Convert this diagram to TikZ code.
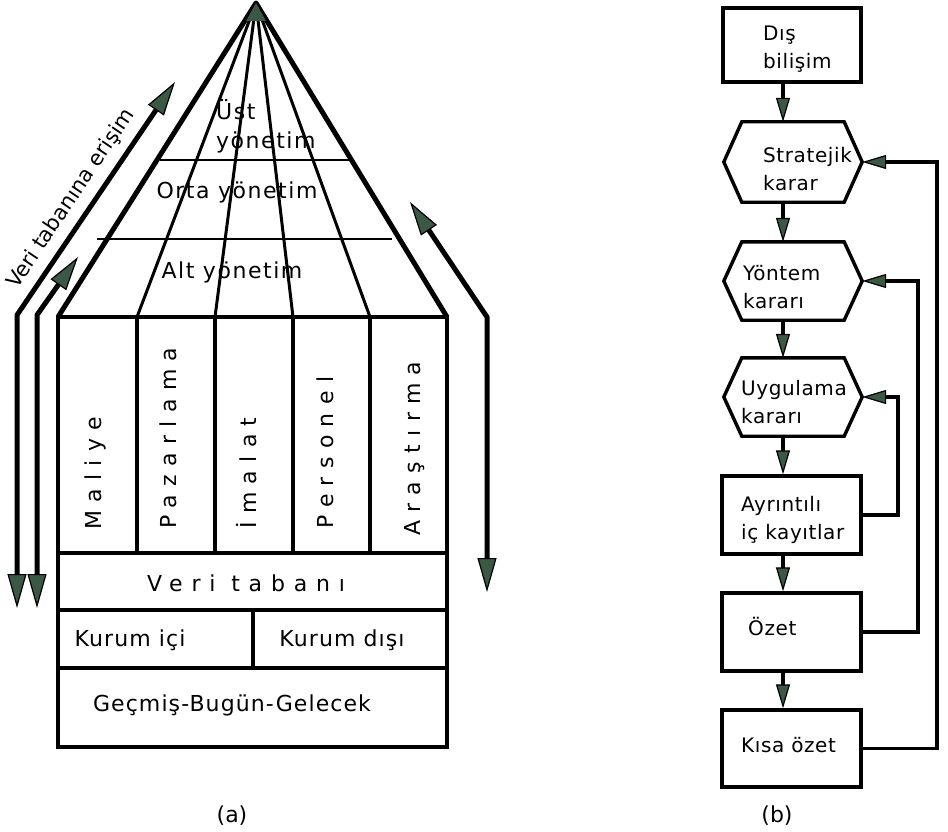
\documentclass[tikz,border=0pt]{standalone}
\usepackage{fontspec}
\setmainfont{DejaVu Sans}
\usetikzlibrary{arrows.meta}
\definecolor{agreen}{RGB}{58,88,68}
\tikzset{
  pyrout/.style={line width=5pt, line join=round},
  pyrin/.style={line width=3pt},
  hline/.style={line width=2.4pt},
  boxln/.style={line width=4.5pt},
  bigtip/.tip={Triangle[length=34pt,width=19pt,fill=agreen,line width=1.2pt]},
  bigarrow/.style={line width=5pt, line join=round, bigtip-bigtip},
  flowtip/.tip={Triangle[length=24pt,width=14pt,fill=agreen,line width=1.2pt]},
  farrow/.style={line width=3.4pt, -flowtip},
  fline/.style={line width=3.4pt},
  lvl/.style={inner sep=0pt, font=\fontsize{22}{29}\selectfont\addfontfeatures{LetterSpace=7}},
  colt/.style={inner sep=0pt, rotate=90, anchor=west, font=\fontsize{22}{26}\selectfont\addfontfeatures{LetterSpace=38}},
  wide/.style={inner sep=0pt, font=\fontsize{22}{26}\selectfont\addfontfeatures{LetterSpace=40}},
  cell/.style={inner sep=0pt, font=\fontsize{22}{26}\selectfont\addfontfeatures{LetterSpace=5}},
  fbox/.style={draw, line width=3.4pt, inner sep=0pt},
  hexbox/.style={inner sep=0pt},
  ftext/.style={inner sep=0pt, anchor=west, align=left, font=\fontsize{20}{28}\selectfont\addfontfeatures{LetterSpace=3}},
  caplabel/.style={inner sep=0pt, font=\fontsize{22}{26}\selectfont}
}
\begin{document}
\begin{tikzpicture}[x=1pt,y=-1pt]
\useasboundingbox (0,0) rectangle (948,832);

% ---------- (a) pyramid ----------
\coordinate (apex) at (256,3);
\coordinate (b0) at (58,317);
\coordinate (b1) at (137,317);
\coordinate (b2) at (215,317);
\coordinate (b3) at (293,317);
\coordinate (b4) at (370,317);
\coordinate (b5) at (447,317);
\draw[pyrin] (apex) -- (b1);
\draw[pyrin] (apex) -- (b2);
\draw[pyrin] (apex) -- (b3);
\draw[pyrin] (apex) -- (b4);
\draw[pyrout] (b0) -- (apex) -- (b5);
\fill[agreen] (apex) -- (246,21) -- (266,21) -- cycle;
\draw[hline] (160,160) -- (351,160);
\draw[hline] (97,239) -- (392,239);

\node[lvl, anchor=north west, align=left] (ust) at (216,99) {Üst\\yönetim};
\node[lvl] (orta) at (237,192) {Orta yönetim};
\node[lvl] (alt) at (232,272) {Alt yönetim};

% box
\draw[boxln] (b0) rectangle (447,747);
\draw[boxln] (b1) -- (137,553);
\draw[boxln] (b2) -- (215,553);
\draw[boxln] (b3) -- (293,553);
\draw[boxln] (b4) -- (370,553);
\draw[boxln] (58,553) -- (447,553);
\draw[boxln] (58,610) -- (447,610);
\draw[boxln] (253,610) -- (253,668);
\draw[boxln] (58,668) -- (447,668);

\node[colt] (maliye) at (95,530) {Maliye};
\node[colt] (pazar) at (168,529) {Pazarlama};
\node[colt] (imalat) at (247,529) {İmalat};
\node[colt] (pers) at (325,529) {Personel};
\node[colt] (aras) at (415,536) {Araştırma};
\node[wide] (veri) at (246,583) {Veri tabanı};
\node[cell] (ici) at (130,640) {Kurum içi};
\node[cell] (disi) at (342,640) {Kurum dışı};
\node[cell] (gbg) at (232,705) {Geçmiş-Bugün-Gelecek};

% access arrows
\draw[bigarrow] (17,608) -- (17,315) -- (175,82);
\draw[bigarrow] (37,608) -- (37,315) -- (78,257);
\draw[bigarrow] (487,592) -- (487,317) -- (410,202);
\node[inner sep=0pt, rotate=56, font=\fontsize{21}{24}\selectfont] (erisim) at (71,199) {Veri tabanına erişim};

\node[caplabel] (capa) at (232,816) {(a)};

% ---------- (b) flowchart ----------
\coordinate (ax) at (783,0);
\coordinate (fb1) at (937,0);
\coordinate (fb2) at (918,0);
\coordinate (fb3) at (898,0);

\node[fbox, minimum width=138pt, minimum height=74pt] (dis) at (792,45) {};
\node[ftext] (dist) at (763,49) {Dış\\bilişim};

\node[hexbox, minimum width=138pt, minimum height=80pt] (strat) at (793,162) {};
\node[hexbox, minimum width=138pt, minimum height=78pt] (yont) at (793,281) {};
\node[hexbox, minimum width=138pt, minimum height=78pt] (uyg) at (793,397) {};
\foreach \h in {strat,yont,uyg}{
  \draw[fline, line join=miter] (\h.west) -- ([xshift=18pt]\h.north west) -- ([xshift=-18pt]\h.north east) -- (\h.east) -- ([xshift=-18pt]\h.south east) -- ([xshift=18pt]\h.south west) -- cycle;
}
\node[ftext] (stratt) at (763,169) {Stratejik\\karar};
\node[ftext] (yontt) at (743,287) {Yöntem\\kararı};
\node[ftext] (uygt) at (741,402) {Uygulama\\kararı};

\node[fbox, minimum width=139pt, minimum height=78pt] (ayr) at (791.5,515) {};
\node[fbox, minimum width=139pt, minimum height=78pt] (ozet) at (791.5,632) {};
\node[fbox, minimum width=139pt, minimum height=77pt] (kisa) at (791.5,748.5) {};
\node[ftext] (ayrt) at (741,520) {Ayrıntılı\\iç kayıtlar};
\node[ftext] (ozett) at (748,627) {Özet};
\node[ftext] (kisat) at (741,745) {Kısa özet};

\draw[farrow] (dis.south -| ax) -- (strat.north -| ax);
\draw[farrow] (strat.south -| ax) -- (yont.north -| ax);
\draw[farrow] (yont.south -| ax) -- (uyg.north -| ax);
\draw[farrow] (uyg.south -| ax) -- (ayr.north -| ax);
\draw[farrow] (ayr.south -| ax) -- (ozet.north -| ax);
\draw[farrow] (ozet.south -| ax) -- (kisa.north -| ax);

\draw[farrow] (kisa.east) -- (kisa.east -| fb1) -- (strat.east -| fb1) -- (strat.east);
\draw[farrow] (ozet.east) -- (ozet.east -| fb2) -- (yont.east -| fb2) -- (yont.east);
\draw[farrow] (ayr.east) -- (ayr.east -| fb3) -- (uyg.east -| fb3) -- (uyg.east);

\node[caplabel] (capb) at (777,816) {(b)};
\end{tikzpicture}
\end{document}
